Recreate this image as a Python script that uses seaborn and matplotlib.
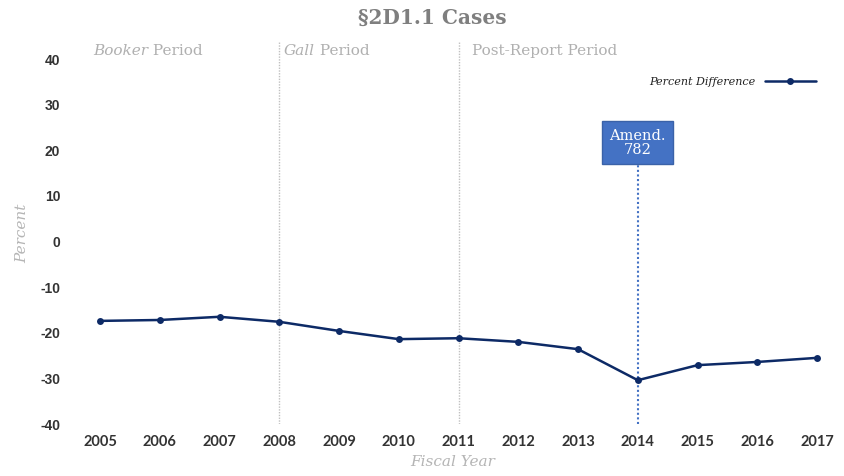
import matplotlib
matplotlib.use("Agg")
import matplotlib.pyplot as plt
import seaborn as sns
import pandas as pd

years = [2005, 2006, 2007, 2008, 2009, 2010, 2011, 2012, 2013, 2014, 2015, 2016, 2017]
pct_diff = [-17.4, -17.2, -16.5, -17.6, -19.6, -21.4, -21.2, -22.0, -23.6, -30.4, -27.1, -26.4, -25.5]
period_starts = [2008, 2011]
period_labels = [("Booker", " Period"), ("Gall", " Period"), ("", "Post-Report Period")]
amend_year = 2014
amend_label = "Amend.\n782"
y_ticks = [-40, -30, -20, -10, 0, 10, 20, 30, 40]

df = pd.DataFrame({"Fiscal Year": years, "Percent Difference": pct_diff})

sns.set_theme(style="white")
plt.rcParams['font.family'] = ['DejaVu Sans']

fig = plt.figure(figsize=(8.45, 4.76), dpi=100)
W, H = 845, 476
ax = fig.add_axes([70 / W, (H - 424) / H, 765 / W, 382 / H])

navy = "#0d2a66"
sns.lineplot(data=df, x="Fiscal Year", y="Percent Difference", ax=ax, color=navy,
             marker="o", markersize=5, linewidth=1.8, markeredgewidth=0,
             label="Percent Difference", legend=False)

ax.set_xlim(2004.498, 2017.30)
ax.set_ylim(-40, 43.73)
ax.set_yticks(y_ticks)
ax.set_xticks(years)
for s in ax.spines.values():
    s.set_visible(False)
ax.tick_params(axis="both", length=0)
ax.set_xticklabels([str(y) for y in years], fontfamily="Lato", fontweight="bold",
                   fontsize=10.5, color="#333333")
ax.set_yticklabels([str(v) for v in y_ticks], fontfamily="Liberation Sans", fontweight="bold",
                   fontsize=10, color="#333333")
ax.tick_params(axis="x", pad=8)
ax.tick_params(axis="y", pad=7)

ax.set_xlabel("Fiscal Year", fontfamily="DejaVu Serif", style="italic", fontsize=11,
              color="#b5b5b5", labelpad=4)
ax.set_ylabel("Percent", fontfamily="DejaVu Serif", style="italic", fontsize=11,
              color="#b5b5b5", labelpad=8)

# period separators
for yr in period_starts:
    ax.axvline(yr, color="#c0c0c0", linestyle=(0, (1, 1)), linewidth=1, zorder=0)

# period labels
label_x = [2004.88, 2008.08, 2011.22]
for (it, rest), lx in zip(period_labels, label_x):
    if it:
        t = ax.text(lx, 41.8, it, fontfamily="DejaVu Serif", style="italic", fontsize=11,
                    color="#b0b0b0", va="center", ha="left")
        fig.canvas.draw()
        bb = t.get_window_extent()
        x_end = ax.transData.inverted().transform((bb.x1, bb.y0))[0]
        ax.text(x_end, 41.8, rest, fontfamily="DejaVu Serif", fontsize=11,
                color="#b0b0b0", va="center", ha="left")
    else:
        ax.text(lx, 41.8, rest, fontfamily="DejaVu Serif", fontsize=11,
                color="#b0b0b0", va="center", ha="left")

# amendment marker
ax.plot([amend_year, amend_year], [-40, 17], color="#4472c4", linestyle=(0, (1, 1.2)),
        linewidth=1.5, zorder=1)
ax.text(amend_year, 21.7, amend_label, fontfamily="DejaVu Serif", fontsize=10.5,
        color="white", ha="center", va="center", linespacing=1.0,
        bbox=dict(boxstyle="square,pad=0.5", facecolor="#4472c4", edgecolor="#3a62a8"))

# legend
leg = ax.legend(loc="upper right", bbox_to_anchor=(0.988, 0.935), frameon=False,
                markerfirst=False, handlelength=4.6, handletextpad=0.8,
                prop={"family": "DejaVu Serif", "style": "italic", "size": 8})
for t in leg.get_texts():
    t.set_color("#222222")

fig.suptitle("§2D1.1 Cases", x=432 / W, y=1 - 8 / H, va="top", fontfamily="DejaVu Serif",
             fontweight="bold", fontsize=14.5, color="#7f7f7f")

fig.savefig("out.png", dpi=100, facecolor="white")
